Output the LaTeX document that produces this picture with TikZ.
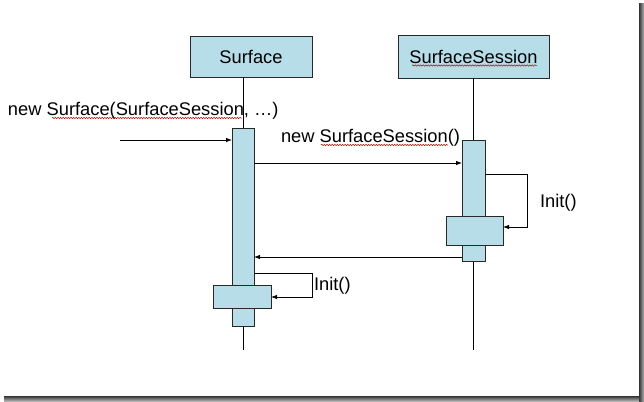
\documentclass[tikz,border=0pt]{standalone}
\usepackage{fontspec}
\setmainfont{Liberation Sans}
\usetikzlibrary{arrows.meta,decorations.pathmorphing}
\definecolor{actfill}{RGB}{183,222,232}
\definecolor{edge}{RGB}{40,40,40}
\begin{document}
\begin{tikzpicture}[x=1pt,y=-1pt,
  every node/.style={font=\fontsize{18.3}{22}\selectfont, inner sep=0pt, outer sep=0pt},
  objbox/.style={draw=edge, line width=0.9pt, fill=actfill},
  actbox/.style={draw=edge, line width=0.9pt, fill=actfill},
  lifeline/.style={draw=black, line width=0.8pt},
  msg/.style={draw=black, line width=0.8pt, -{Latex[length=6pt,width=4.5pt]}},
  lbl/.style={anchor=base west},
  squig/.style={draw=red!80!black, line width=0.5pt, decorate,
    decoration={snake, amplitude=0.7pt, segment length=2.6pt}}]
\useasboundingbox (0,0) rectangle (644,401);
\fill[white] (0,0) rectangle (644,401);
% frame shadow
\shade[left color=black!80, right color=black!30] (639,4) rectangle (644,401);
\shade[top color=black!80, bottom color=black!30] (4,396) rectangle (639,401);

% objects
\node[objbox, minimum width=122pt, minimum height=41pt] (s) at (251,56.5) {Surface};
\node[objbox, minimum width=151pt, minimum height=43pt] (ss) at (473.5,56.5) {SurfaceSession};

% lifelines
\coordinate (stop) at (243,0);
\coordinate (send) at (243,350);
\coordinate (ssend) at (473.5,350);
\draw[lifeline] (stop |- s.south) -- (send);
\draw[lifeline] (ss.south) -- (ssend);

% activations
\node[actbox, minimum width=22pt, minimum height=198pt] (a1) at (243,227) {};
\node[actbox, minimum width=58pt, minimum height=23pt] (w1) at (242,296.5) {};
\node[actbox, minimum width=23pt, minimum height=121pt] (a2) at (473.5,200.5) {};
\node[actbox, minimum width=57pt, minimum height=29pt] (w2) at (474.5,230.5) {};

% incoming message
\coordinate (in) at (120,140);
\draw[msg] (in) -- (in -| a1.west);
\node[lbl] (l1) at (8,115) {new Surface(SurfaceSession, …)};

% create session
\coordinate (m2) at (0,163);
\draw[msg] (m2 -| a1.east) -- (m2 -| a2.west);
\node[lbl] (l2) at (281,142) {new SurfaceSession()};

% session init (self call)
\coordinate (c2a) at (527,174);
\coordinate (c2b) at (527,227);
\draw[msg] (c2a -| a2.east) -- (c2a) -- (c2b) -- (c2b -| w2.east);
\node[lbl] (l3) at (540,207) {Init()};

% return
\coordinate (m3) at (0,257);
\draw[msg] (m3 -| a2.west) -- (m3 -| a1.east);

% surface init (self call)
\coordinate (c1a) at (312,273);
\coordinate (c1b) at (312,297);
\draw[msg] (c1a -| a1.east) -- (c1a) -- (c1b) -- (c1b -| w1.east);
\node[lbl] (l4) at (314,290) {Init()};

% spell-check squiggles
\draw[squig] (412,65.5) -- (537,65.5);
\draw[squig] (52,118) -- (242,118);
\draw[squig] (321,145) -- (448,145);
\end{tikzpicture}
\end{document}
